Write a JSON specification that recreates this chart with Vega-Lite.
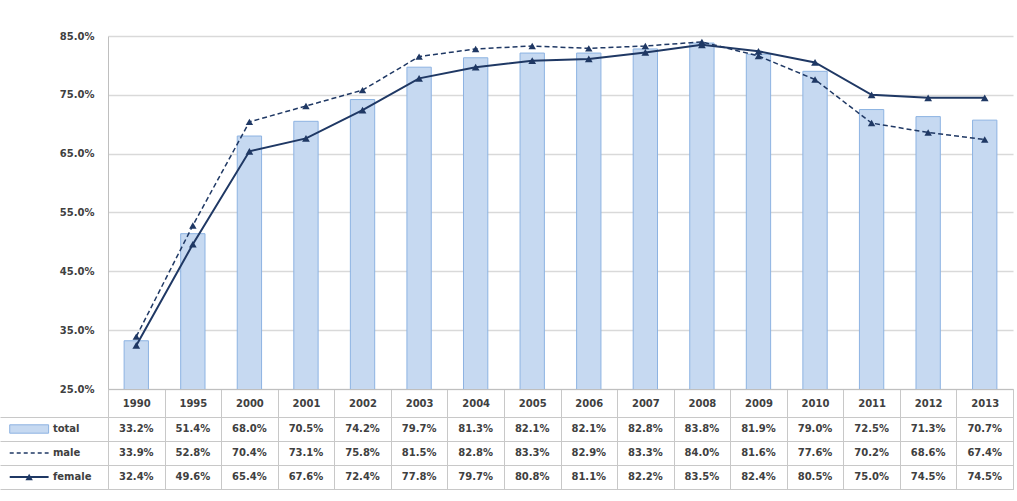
{
  "$schema": "https://vega.github.io/schema/vega-lite/v6.json",
  "padding": {"left": 0, "top": 31, "right": 4, "bottom": 5},
  "background": "white",
  "columns": 2,
  "bounds": "flush",
  "align": "each",
  "spacing": {"row": 28, "column": 0},
  "config": {
    "view": {"stroke": null},
    "font": "DejaVu Sans",
    "axis": {"labelFont": "DejaVu Sans", "labelFontWeight": "bold", "labelColor": "#404040", "labelFontSize": 10}
  },
  "datasets": {
    "wide": [
      {"year": "1990", "total": 0.332, "male": 0.339, "female": 0.324},
      {"year": "1995", "total": 0.514, "male": 0.528, "female": 0.496},
      {"year": "2000", "total": 0.680, "male": 0.704, "female": 0.654},
      {"year": "2001", "total": 0.705, "male": 0.731, "female": 0.676},
      {"year": "2002", "total": 0.742, "male": 0.758, "female": 0.724},
      {"year": "2003", "total": 0.797, "male": 0.815, "female": 0.778},
      {"year": "2004", "total": 0.813, "male": 0.828, "female": 0.797},
      {"year": "2005", "total": 0.821, "male": 0.833, "female": 0.808},
      {"year": "2006", "total": 0.821, "male": 0.829, "female": 0.811},
      {"year": "2007", "total": 0.828, "male": 0.833, "female": 0.822},
      {"year": "2008", "total": 0.838, "male": 0.840, "female": 0.835},
      {"year": "2009", "total": 0.819, "male": 0.816, "female": 0.824},
      {"year": "2010", "total": 0.790, "male": 0.776, "female": 0.805},
      {"year": "2011", "total": 0.725, "male": 0.702, "female": 0.750},
      {"year": "2012", "total": 0.713, "male": 0.686, "female": 0.745},
      {"year": "2013", "total": 0.707, "male": 0.674, "female": 0.745}
    ],
    "keys": [{"series": "total"}, {"series": "male"}, {"series": "female"}]
  },
  "concat": [
    {
      "width": 108,
      "height": 353,
      "data": {"values": []},
      "mark": "point"
    },
    {
      "width": 905,
      "height": 353,
      "data": {"name": "wide"},
      "encoding": {
        "x": {
          "field": "year", "type": "ordinal",
          "scale": {"type": "band", "paddingInner": 0, "paddingOuter": 0},
          "axis": {"title": null, "labelAngle": 0, "tickBand": "extent", "tickSize": 28, "labelPadding": -19, "domainColor": "#bfbfbf", "tickColor": "#c8c8c8", "grid": false}
        }
      },
      "layer": [
        {
          "mark": {"type": "bar", "width": {"band": 0.43}, "fill": "#c6d9f1", "stroke": "#8db3e2", "strokeWidth": 1, "clip": true},
          "encoding": {
            "y": {
              "field": "total", "type": "quantitative",
              "scale": {"domain": [0.25, 0.85], "nice": false, "zero": false},
              "axis": {"title": null, "values": [0.25, 0.35, 0.45, 0.55, 0.65, 0.75, 0.85], "format": ".1%", "ticks": false, "labelPadding": 14, "gridColor": "#d9d9d9", "gridWidth": 1.5, "domainColor": "#bfbfbf"}
            }
          }
        },
        {
          "mark": {"type": "line", "color": "#1f3864", "strokeWidth": 1.5, "strokeDash": [5, 3], "point": {"shape": "triangle-up", "size": 55, "filled": true, "color": "#1f3864"}},
          "encoding": {"y": {"field": "male", "type": "quantitative", "axis": {"title": null}}}
        },
        {
          "mark": {"type": "line", "color": "#1f3864", "strokeWidth": 2, "point": {"shape": "triangle-up", "size": 60, "filled": true, "color": "#1f3864"}},
          "encoding": {"y": {"field": "female", "type": "quantitative", "axis": {"title": null}}}
        }
      ]
    },
    {
      "width": 108,
      "height": 72,
      "data": {"name": "keys"},
      "encoding": {
        "y": {
          "field": "series", "type": "nominal",
          "scale": {"type": "band", "domain": ["total", "male", "female"], "paddingInner": 0, "paddingOuter": 0},
          "axis": {"title": null, "labels": false, "ticks": false, "domain": false, "grid": true, "tickBand": "extent", "gridColor": "#c8c8c8"}
        }
      },
      "layer": [
        {
          "mark": {"type": "text", "align": "left", "fontWeight": "bold", "fontSize": 10, "color": "#404040", "font": "DejaVu Sans"},
          "encoding": {
            "x": {"datum": 0.49, "type": "quantitative", "scale": {"domain": [0, 1]}, "axis": null},
            "text": {"field": "series"}
          }
        },
        {
          "transform": [{"filter": "datum.series === 'total'"}],
          "mark": {"type": "bar", "height": {"band": 0.35}, "fill": "#c6d9f1", "stroke": "#8db3e2"},
          "encoding": {"x": {"datum": 0.09, "type": "quantitative"}, "x2": {"datum": 0.45}}
        },
        {
          "transform": [{"filter": "datum.series === 'male'"}],
          "mark": {"type": "rule", "color": "#1f3864", "strokeWidth": 1.5, "strokeDash": [4, 3]},
          "encoding": {"x": {"datum": 0.09, "type": "quantitative"}, "x2": {"datum": 0.45}}
        },
        {
          "transform": [{"filter": "datum.series === 'female'"}],
          "mark": {"type": "rule", "color": "#1f3864", "strokeWidth": 2},
          "encoding": {"x": {"datum": 0.09, "type": "quantitative"}, "x2": {"datum": 0.45}}
        },
        {
          "transform": [{"filter": "datum.series === 'female'"}],
          "mark": {"type": "point", "shape": "triangle-up", "size": 55, "filled": true, "color": "#1f3864", "opacity": 1},
          "encoding": {"x": {"datum": 0.27, "type": "quantitative"}}
        }
      ]
    },
    {
      "width": 905,
      "height": 72,
      "view": {"stroke": "#c8c8c8"},
      "data": {"name": "wide"},
      "transform": [{"fold": ["total", "male", "female"], "as": ["series", "value"]}],
      "mark": {"type": "text", "fontWeight": "bold", "fontSize": 10, "color": "#404040", "font": "DejaVu Sans"},
      "encoding": {
        "x": {
          "field": "year", "type": "ordinal",
          "scale": {"type": "band", "paddingInner": 0, "paddingOuter": 0},
          "axis": {"title": null, "orient": "top", "labels": false, "ticks": false, "domain": false, "grid": true, "tickBand": "extent", "gridColor": "#c8c8c8"}
        },
        "y": {
          "field": "series", "type": "nominal",
          "scale": {"type": "band", "domain": ["total", "male", "female"], "paddingInner": 0, "paddingOuter": 0},
          "axis": {"title": null, "labels": false, "ticks": false, "domain": false, "grid": true, "tickBand": "extent", "gridColor": "#c8c8c8"}
        },
        "text": {"field": "value", "type": "quantitative", "format": ".1%"}
      }
    }
  ]
}
